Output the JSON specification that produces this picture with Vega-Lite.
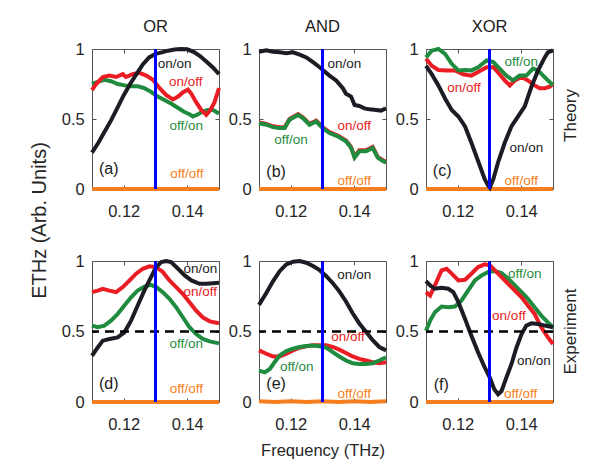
{
"$schema": "https://vega.github.io/schema/vega-lite/v6.json",
"padding": {"left": 28, "top": 18, "right": 5, "bottom": 5},
"config": {
 "font": "Liberation Sans",
 "view": {"stroke": "#555555", "strokeWidth": 1},
 "axis": {"domain": false, "grid": false, "tickSize": -4, "tickColor": "#555555", "tickWidth": 1, "labelFontSize": 16.5, "labelColor": "#262626", "titleFontSize": 16.5, "titleFontWeight": "normal", "titleColor": "#262626"},
 "axisX": {"labelPadding": 31, "labelBaseline": "alphabetic"},
 "axisY": {"labelPadding": 11.7},
 "title": {"fontSize": 16.5, "fontWeight": "normal", "offset": 6, "color": "#1a1a1a"}
},
"datasets": {
 "curves": [
  {"p":"a","s":"off/off","f":0.11,"v":0},{"p":"a","s":"off/off","f":0.15,"v":0},
  {"p":"a","s":"off/on","f":0.11,"v":0.75},{"p":"a","s":"off/on","f":0.1118,"v":0.765},{"p":"a","s":"off/on","f":0.1139,"v":0.78},{"p":"a","s":"off/on","f":0.116,"v":0.77},{"p":"a","s":"off/on","f":0.1181,"v":0.75},{"p":"a","s":"off/on","f":0.1202,"v":0.74},{"p":"a","s":"off/on","f":0.1223,"v":0.734},{"p":"a","s":"off/on","f":0.1244,"v":0.734},{"p":"a","s":"off/on","f":0.1265,"v":0.72},{"p":"a","s":"off/on","f":0.1286,"v":0.694},{"p":"a","s":"off/on","f":0.1307,"v":0.66},{"p":"a","s":"off/on","f":0.1328,"v":0.635},{"p":"a","s":"off/on","f":0.1349,"v":0.61},{"p":"a","s":"off/on","f":0.137,"v":0.58},{"p":"a","s":"off/on","f":0.1391,"v":0.55},{"p":"a","s":"off/on","f":0.1407,"v":0.534},{"p":"a","s":"off/on","f":0.1418,"v":0.518},{"p":"a","s":"off/on","f":0.1434,"v":0.534},{"p":"a","s":"off/on","f":0.1449,"v":0.553},{"p":"a","s":"off/on","f":0.1465,"v":0.565},{"p":"a","s":"off/on","f":0.1481,"v":0.565},{"p":"a","s":"off/on","f":0.15,"v":0.54},
  {"p":"a","s":"on/off","f":0.11,"v":0.706},{"p":"a","s":"on/off","f":0.1113,"v":0.75},{"p":"a","s":"on/off","f":0.1134,"v":0.8},{"p":"a","s":"on/off","f":0.1155,"v":0.81},{"p":"a","s":"on/off","f":0.1176,"v":0.8},{"p":"a","s":"on/off","f":0.1197,"v":0.82},{"p":"a","s":"on/off","f":0.1207,"v":0.8},{"p":"a","s":"on/off","f":0.1228,"v":0.82},{"p":"a","s":"on/off","f":0.1249,"v":0.83},{"p":"a","s":"on/off","f":0.1271,"v":0.81},{"p":"a","s":"on/off","f":0.1292,"v":0.78},{"p":"a","s":"on/off","f":0.1313,"v":0.72},{"p":"a","s":"on/off","f":0.1334,"v":0.67},{"p":"a","s":"on/off","f":0.1355,"v":0.64},{"p":"a","s":"on/off","f":0.1371,"v":0.66},{"p":"a","s":"on/off","f":0.1386,"v":0.69},{"p":"a","s":"on/off","f":0.1402,"v":0.71},{"p":"a","s":"on/off","f":0.1413,"v":0.68},{"p":"a","s":"on/off","f":0.1428,"v":0.62},{"p":"a","s":"on/off","f":0.1444,"v":0.565},{"p":"a","s":"on/off","f":0.146,"v":0.53},{"p":"a","s":"on/off","f":0.1473,"v":0.565},{"p":"a","s":"on/off","f":0.1486,"v":0.62},{"p":"a","s":"on/off","f":0.15,"v":0.72},
  {"p":"a","s":"on/on","f":0.11,"v":0.26},{"p":"a","s":"on/on","f":0.112,"v":0.33},{"p":"a","s":"on/on","f":0.114,"v":0.41},{"p":"a","s":"on/on","f":0.116,"v":0.49},{"p":"a","s":"on/on","f":0.118,"v":0.58},{"p":"a","s":"on/on","f":0.12,"v":0.67},{"p":"a","s":"on/on","f":0.122,"v":0.75},{"p":"a","s":"on/on","f":0.124,"v":0.82},{"p":"a","s":"on/on","f":0.126,"v":0.89},{"p":"a","s":"on/on","f":0.128,"v":0.94},{"p":"a","s":"on/on","f":0.13,"v":0.965},{"p":"a","s":"on/on","f":0.132,"v":0.976},{"p":"a","s":"on/on","f":0.134,"v":0.988},{"p":"a","s":"on/on","f":0.136,"v":0.997},{"p":"a","s":"on/on","f":0.138,"v":1.0},{"p":"a","s":"on/on","f":0.14,"v":0.998},{"p":"a","s":"on/on","f":0.142,"v":0.98},{"p":"a","s":"on/on","f":0.144,"v":0.95},{"p":"a","s":"on/on","f":0.146,"v":0.91},{"p":"a","s":"on/on","f":0.148,"v":0.87},{"p":"a","s":"on/on","f":0.15,"v":0.82},

  {"p":"b","s":"off/off","f":0.11,"v":0},{"p":"b","s":"off/off","f":0.15,"v":0},
  {"p":"b","s":"on/off","f":0.11,"v":0.476},{"p":"b","s":"on/off","f":0.1123,"v":0.465},{"p":"b","s":"on/off","f":0.1144,"v":0.448},{"p":"b","s":"on/off","f":0.1163,"v":0.441},{"p":"b","s":"on/off","f":0.1181,"v":0.441},{"p":"b","s":"on/off","f":0.1196,"v":0.5},{"p":"b","s":"on/off","f":0.1223,"v":0.535},{"p":"b","s":"on/off","f":0.1238,"v":0.512},{"p":"b","s":"on/off","f":0.1259,"v":0.465},{"p":"b","s":"on/off","f":0.128,"v":0.488},{"p":"b","s":"on/off","f":0.1301,"v":0.441},{"p":"b","s":"on/off","f":0.1322,"v":0.406},{"p":"b","s":"on/off","f":0.1348,"v":0.382},{"p":"b","s":"on/off","f":0.1374,"v":0.347},{"p":"b","s":"on/off","f":0.139,"v":0.3},{"p":"b","s":"on/off","f":0.1401,"v":0.23},{"p":"b","s":"on/off","f":0.1416,"v":0.276},{"p":"b","s":"on/off","f":0.1437,"v":0.276},{"p":"b","s":"on/off","f":0.1458,"v":0.3},{"p":"b","s":"on/off","f":0.1474,"v":0.23},{"p":"b","s":"on/off","f":0.149,"v":0.206},{"p":"b","s":"on/off","f":0.15,"v":0.194},
  {"p":"b","s":"off/on","f":0.11,"v":0.47},{"p":"b","s":"off/on","f":0.1123,"v":0.459},{"p":"b","s":"off/on","f":0.1144,"v":0.442},{"p":"b","s":"off/on","f":0.1163,"v":0.435},{"p":"b","s":"off/on","f":0.1181,"v":0.435},{"p":"b","s":"off/on","f":0.1196,"v":0.494},{"p":"b","s":"off/on","f":0.1223,"v":0.529},{"p":"b","s":"off/on","f":0.1238,"v":0.506},{"p":"b","s":"off/on","f":0.1259,"v":0.459},{"p":"b","s":"off/on","f":0.128,"v":0.482},{"p":"b","s":"off/on","f":0.1301,"v":0.435},{"p":"b","s":"off/on","f":0.1322,"v":0.4},{"p":"b","s":"off/on","f":0.1348,"v":0.376},{"p":"b","s":"off/on","f":0.1374,"v":0.341},{"p":"b","s":"off/on","f":0.139,"v":0.294},{"p":"b","s":"off/on","f":0.1401,"v":0.224},{"p":"b","s":"off/on","f":0.1416,"v":0.27},{"p":"b","s":"off/on","f":0.1437,"v":0.27},{"p":"b","s":"off/on","f":0.1458,"v":0.294},{"p":"b","s":"off/on","f":0.1474,"v":0.224},{"p":"b","s":"off/on","f":0.149,"v":0.2},{"p":"b","s":"off/on","f":0.15,"v":0.188},
  {"p":"b","s":"on/on","f":0.11,"v":0.98},{"p":"b","s":"on/on","f":0.1123,"v":0.99},{"p":"b","s":"on/on","f":0.1144,"v":0.98},{"p":"b","s":"on/on","f":0.1165,"v":0.976},{"p":"b","s":"on/on","f":0.1186,"v":0.97},{"p":"b","s":"on/on","f":0.1207,"v":0.976},{"p":"b","s":"on/on","f":0.1228,"v":0.96},{"p":"b","s":"on/on","f":0.1249,"v":0.94},{"p":"b","s":"on/on","f":0.127,"v":0.906},{"p":"b","s":"on/on","f":0.1291,"v":0.87},{"p":"b","s":"on/on","f":0.1303,"v":0.847},{"p":"b","s":"on/on","f":0.1322,"v":0.81},{"p":"b","s":"on/on","f":0.1343,"v":0.776},{"p":"b","s":"on/on","f":0.1364,"v":0.72},{"p":"b","s":"on/on","f":0.1374,"v":0.68},{"p":"b","s":"on/on","f":0.139,"v":0.66},{"p":"b","s":"on/on","f":0.1401,"v":0.6},{"p":"b","s":"on/on","f":0.1416,"v":0.593},{"p":"b","s":"on/on","f":0.1432,"v":0.576},{"p":"b","s":"on/on","f":0.1448,"v":0.569},{"p":"b","s":"on/on","f":0.1469,"v":0.565},{"p":"b","s":"on/on","f":0.1484,"v":0.56},{"p":"b","s":"on/on","f":0.15,"v":0.576},

  {"p":"c","s":"off/off","f":0.11,"v":0},{"p":"c","s":"off/off","f":0.15,"v":0},
  {"p":"c","s":"on/off","f":0.11,"v":0.93},{"p":"c","s":"on/off","f":0.1118,"v":0.88},{"p":"c","s":"on/off","f":0.1139,"v":0.85},{"p":"c","s":"on/off","f":0.1165,"v":0.847},{"p":"c","s":"on/off","f":0.1191,"v":0.847},{"p":"c","s":"on/off","f":0.1217,"v":0.82},{"p":"c","s":"on/off","f":0.1243,"v":0.81},{"p":"c","s":"on/off","f":0.1264,"v":0.835},{"p":"c","s":"on/off","f":0.1291,"v":0.87},{"p":"c","s":"on/off","f":0.1312,"v":0.87},{"p":"c","s":"on/off","f":0.1332,"v":0.82},{"p":"c","s":"on/off","f":0.1348,"v":0.776},{"p":"c","s":"on/off","f":0.1364,"v":0.74},{"p":"c","s":"on/off","f":0.138,"v":0.776},{"p":"c","s":"on/off","f":0.1401,"v":0.8},{"p":"c","s":"on/off","f":0.1421,"v":0.776},{"p":"c","s":"on/off","f":0.1442,"v":0.74},{"p":"c","s":"on/off","f":0.1458,"v":0.72},{"p":"c","s":"on/off","f":0.1474,"v":0.72},{"p":"c","s":"on/off","f":0.149,"v":0.73},{"p":"c","s":"on/off","f":0.15,"v":0.753},
  {"p":"c","s":"off/on","f":0.11,"v":0.94},{"p":"c","s":"off/on","f":0.1118,"v":0.988},{"p":"c","s":"off/on","f":0.1139,"v":1.0},{"p":"c","s":"off/on","f":0.116,"v":0.965},{"p":"c","s":"off/on","f":0.1181,"v":0.894},{"p":"c","s":"off/on","f":0.1202,"v":0.847},{"p":"c","s":"off/on","f":0.1223,"v":0.85},{"p":"c","s":"off/on","f":0.1243,"v":0.847},{"p":"c","s":"off/on","f":0.1264,"v":0.87},{"p":"c","s":"off/on","f":0.1291,"v":0.918},{"p":"c","s":"off/on","f":0.1312,"v":0.906},{"p":"c","s":"off/on","f":0.1332,"v":0.86},{"p":"c","s":"off/on","f":0.1353,"v":0.81},{"p":"c","s":"off/on","f":0.1374,"v":0.776},{"p":"c","s":"off/on","f":0.1395,"v":0.81},{"p":"c","s":"off/on","f":0.1416,"v":0.81},{"p":"c","s":"off/on","f":0.1437,"v":0.86},{"p":"c","s":"off/on","f":0.1453,"v":0.847},{"p":"c","s":"off/on","f":0.1469,"v":0.81},{"p":"c","s":"off/on","f":0.1484,"v":0.776},{"p":"c","s":"off/on","f":0.15,"v":0.741},
  {"p":"c","s":"on/on","f":0.11,"v":0.88},{"p":"c","s":"on/on","f":0.1118,"v":0.82},{"p":"c","s":"on/on","f":0.1139,"v":0.74},{"p":"c","s":"on/on","f":0.116,"v":0.647},{"p":"c","s":"on/on","f":0.1181,"v":0.565},{"p":"c","s":"on/on","f":0.1202,"v":0.518},{"p":"c","s":"on/on","f":0.1223,"v":0.447},{"p":"c","s":"on/on","f":0.1243,"v":0.33},{"p":"c","s":"on/on","f":0.1264,"v":0.2},{"p":"c","s":"on/on","f":0.1285,"v":0.07},{"p":"c","s":"on/on","f":0.1296,"v":0.024},{"p":"c","s":"on/on","f":0.1301,"v":0.01},{"p":"c","s":"on/on","f":0.1312,"v":0.07},{"p":"c","s":"on/on","f":0.1327,"v":0.19},{"p":"c","s":"on/on","f":0.1348,"v":0.33},{"p":"c","s":"on/on","f":0.1369,"v":0.447},{"p":"c","s":"on/on","f":0.139,"v":0.518},{"p":"c","s":"on/on","f":0.1411,"v":0.59},{"p":"c","s":"on/on","f":0.1432,"v":0.73},{"p":"c","s":"on/on","f":0.1453,"v":0.847},{"p":"c","s":"on/on","f":0.1474,"v":0.94},{"p":"c","s":"on/on","f":0.1484,"v":0.976},{"p":"c","s":"on/on","f":0.15,"v":0.99},

  {"p":"d","s":"off/off","f":0.11,"v":0},{"p":"d","s":"off/off","f":0.15,"v":0},
  {"p":"d","s":"off/on","f":0.11,"v":0.542},{"p":"d","s":"off/on","f":0.1118,"v":0.53},{"p":"d","s":"off/on","f":0.1139,"v":0.542},{"p":"d","s":"off/on","f":0.116,"v":0.577},{"p":"d","s":"off/on","f":0.1181,"v":0.625},{"p":"d","s":"off/on","f":0.1202,"v":0.684},{"p":"d","s":"off/on","f":0.1223,"v":0.743},{"p":"d","s":"off/on","f":0.1244,"v":0.791},{"p":"d","s":"off/on","f":0.1265,"v":0.819},{"p":"d","s":"off/on","f":0.1286,"v":0.831},{"p":"d","s":"off/on","f":0.1302,"v":0.815},{"p":"d","s":"off/on","f":0.1323,"v":0.779},{"p":"d","s":"off/on","f":0.1344,"v":0.732},{"p":"d","s":"off/on","f":0.1365,"v":0.672},{"p":"d","s":"off/on","f":0.1386,"v":0.601},{"p":"d","s":"off/on","f":0.1407,"v":0.53},{"p":"d","s":"off/on","f":0.1428,"v":0.482},{"p":"d","s":"off/on","f":0.1449,"v":0.447},{"p":"d","s":"off/on","f":0.1471,"v":0.43},{"p":"d","s":"off/on","f":0.15,"v":0.416},
  {"p":"d","s":"on/off","f":0.11,"v":0.779},{"p":"d","s":"on/off","f":0.1118,"v":0.79},{"p":"d","s":"on/off","f":0.1134,"v":0.803},{"p":"d","s":"on/off","f":0.1155,"v":0.79},{"p":"d","s":"on/off","f":0.1176,"v":0.779},{"p":"d","s":"on/off","f":0.1197,"v":0.815},{"p":"d","s":"on/off","f":0.1218,"v":0.862},{"p":"d","s":"on/off","f":0.1239,"v":0.91},{"p":"d","s":"on/off","f":0.126,"v":0.945},{"p":"d","s":"on/off","f":0.1281,"v":0.962},{"p":"d","s":"on/off","f":0.1302,"v":0.957},{"p":"d","s":"on/off","f":0.1323,"v":0.922},{"p":"d","s":"on/off","f":0.1344,"v":0.862},{"p":"d","s":"on/off","f":0.1365,"v":0.815},{"p":"d","s":"on/off","f":0.1386,"v":0.767},{"p":"d","s":"on/off","f":0.1407,"v":0.708},{"p":"d","s":"on/off","f":0.1428,"v":0.648},{"p":"d","s":"on/off","f":0.1449,"v":0.6},{"p":"d","s":"on/off","f":0.1471,"v":0.572},{"p":"d","s":"on/off","f":0.15,"v":0.558},
  {"p":"d","s":"on/on","f":0.11,"v":0.328},{"p":"d","s":"on/on","f":0.1118,"v":0.387},{"p":"d","s":"on/on","f":0.1134,"v":0.435},{"p":"d","s":"on/on","f":0.1155,"v":0.447},{"p":"d","s":"on/on","f":0.1181,"v":0.458},{"p":"d","s":"on/on","f":0.1202,"v":0.494},{"p":"d","s":"on/on","f":0.1223,"v":0.577},{"p":"d","s":"on/on","f":0.1244,"v":0.684},{"p":"d","s":"on/on","f":0.1265,"v":0.791},{"p":"d","s":"on/on","f":0.1286,"v":0.886},{"p":"d","s":"on/on","f":0.1302,"v":0.957},{"p":"d","s":"on/on","f":0.1318,"v":0.993},{"p":"d","s":"on/on","f":0.1334,"v":1.0},{"p":"d","s":"on/on","f":0.1349,"v":0.993},{"p":"d","s":"on/on","f":0.1371,"v":0.945},{"p":"d","s":"on/on","f":0.1392,"v":0.898},{"p":"d","s":"on/on","f":0.1413,"v":0.862},{"p":"d","s":"on/on","f":0.1439,"v":0.838},{"p":"d","s":"on/on","f":0.146,"v":0.838},{"p":"d","s":"on/on","f":0.1481,"v":0.843},{"p":"d","s":"on/on","f":0.15,"v":0.846},

  {"p":"e","s":"off/off","f":0.11,"v":0.005},{"p":"e","s":"off/off","f":0.115,"v":0.0},{"p":"e","s":"off/off","f":0.12,"v":0.006},{"p":"e","s":"off/off","f":0.125,"v":0.0},{"p":"e","s":"off/off","f":0.13,"v":0.005},{"p":"e","s":"off/off","f":0.135,"v":0.0},{"p":"e","s":"off/off","f":0.14,"v":0.006},{"p":"e","s":"off/off","f":0.145,"v":0.0},{"p":"e","s":"off/off","f":0.15,"v":0.005},
  {"p":"e","s":"on/off","f":0.11,"v":0.366},{"p":"e","s":"on/off","f":0.1123,"v":0.342},{"p":"e","s":"on/off","f":0.1144,"v":0.323},{"p":"e","s":"on/off","f":0.1165,"v":0.323},{"p":"e","s":"on/off","f":0.1186,"v":0.342},{"p":"e","s":"on/off","f":0.1207,"v":0.366},{"p":"e","s":"on/off","f":0.1228,"v":0.385},{"p":"e","s":"on/off","f":0.1249,"v":0.395},{"p":"e","s":"on/off","f":0.127,"v":0.402},{"p":"e","s":"on/off","f":0.1291,"v":0.402},{"p":"e","s":"on/off","f":0.1312,"v":0.402},{"p":"e","s":"on/off","f":0.1332,"v":0.39},{"p":"e","s":"on/off","f":0.1353,"v":0.371},{"p":"e","s":"on/off","f":0.1374,"v":0.347},{"p":"e","s":"on/off","f":0.1395,"v":0.323},{"p":"e","s":"on/off","f":0.1416,"v":0.306},{"p":"e","s":"on/off","f":0.1437,"v":0.294},{"p":"e","s":"on/off","f":0.1458,"v":0.282},{"p":"e","s":"on/off","f":0.1479,"v":0.275},{"p":"e","s":"on/off","f":0.15,"v":0.282},
  {"p":"e","s":"off/on","f":0.11,"v":0.222},{"p":"e","s":"off/on","f":0.1118,"v":0.21},{"p":"e","s":"off/on","f":0.1134,"v":0.234},{"p":"e","s":"off/on","f":0.1149,"v":0.282},{"p":"e","s":"off/on","f":0.1165,"v":0.33},{"p":"e","s":"off/on","f":0.1186,"v":0.361},{"p":"e","s":"off/on","f":0.1207,"v":0.378},{"p":"e","s":"off/on","f":0.1228,"v":0.39},{"p":"e","s":"off/on","f":0.1249,"v":0.397},{"p":"e","s":"off/on","f":0.127,"v":0.4},{"p":"e","s":"off/on","f":0.1291,"v":0.395},{"p":"e","s":"off/on","f":0.1312,"v":0.385},{"p":"e","s":"off/on","f":0.1332,"v":0.354},{"p":"e","s":"off/on","f":0.1353,"v":0.323},{"p":"e","s":"off/on","f":0.1374,"v":0.294},{"p":"e","s":"off/on","f":0.1395,"v":0.275},{"p":"e","s":"off/on","f":0.1416,"v":0.27},{"p":"e","s":"off/on","f":0.1437,"v":0.27},{"p":"e","s":"off/on","f":0.1458,"v":0.275},{"p":"e","s":"off/on","f":0.1479,"v":0.294},{"p":"e","s":"off/on","f":0.15,"v":0.318},
  {"p":"e","s":"on/on","f":0.11,"v":0.689},{"p":"e","s":"on/on","f":0.1123,"v":0.773},{"p":"e","s":"on/on","f":0.1144,"v":0.856},{"p":"e","s":"on/on","f":0.1165,"v":0.928},{"p":"e","s":"on/on","f":0.1186,"v":0.976},{"p":"e","s":"on/on","f":0.1207,"v":0.995},{"p":"e","s":"on/on","f":0.1228,"v":1.0},{"p":"e","s":"on/on","f":0.1249,"v":0.988},{"p":"e","s":"on/on","f":0.127,"v":0.964},{"p":"e","s":"on/on","f":0.1291,"v":0.935},{"p":"e","s":"on/on","f":0.1312,"v":0.892},{"p":"e","s":"on/on","f":0.1332,"v":0.844},{"p":"e","s":"on/on","f":0.1353,"v":0.785},{"p":"e","s":"on/on","f":0.1374,"v":0.713},{"p":"e","s":"on/on","f":0.1395,"v":0.629},{"p":"e","s":"on/on","f":0.1416,"v":0.557},{"p":"e","s":"on/on","f":0.1437,"v":0.498},{"p":"e","s":"on/on","f":0.1458,"v":0.438},{"p":"e","s":"on/on","f":0.1479,"v":0.39},{"p":"e","s":"on/on","f":0.15,"v":0.366},

  {"p":"f","s":"off/off","f":0.11,"v":0},{"p":"f","s":"off/off","f":0.15,"v":0},
  {"p":"f","s":"off/on","f":0.11,"v":0.506},{"p":"f","s":"off/on","f":0.1113,"v":0.577},{"p":"f","s":"off/on","f":0.1128,"v":0.637},{"p":"f","s":"off/on","f":0.1149,"v":0.677},{"p":"f","s":"off/on","f":0.117,"v":0.672},{"p":"f","s":"off/on","f":0.1191,"v":0.677},{"p":"f","s":"off/on","f":0.1212,"v":0.72},{"p":"f","s":"off/on","f":0.1233,"v":0.791},{"p":"f","s":"off/on","f":0.1254,"v":0.862},{"p":"f","s":"off/on","f":0.1275,"v":0.898},{"p":"f","s":"off/on","f":0.1296,"v":0.922},{"p":"f","s":"off/on","f":0.1317,"v":0.929},{"p":"f","s":"off/on","f":0.1338,"v":0.914},{"p":"f","s":"off/on","f":0.1359,"v":0.874},{"p":"f","s":"off/on","f":0.138,"v":0.827},{"p":"f","s":"off/on","f":0.1401,"v":0.779},{"p":"f","s":"off/on","f":0.1421,"v":0.732},{"p":"f","s":"off/on","f":0.1442,"v":0.672},{"p":"f","s":"off/on","f":0.1463,"v":0.613},{"p":"f","s":"off/on","f":0.1484,"v":0.565},{"p":"f","s":"off/on","f":0.15,"v":0.53},
  {"p":"f","s":"on/off","f":0.11,"v":0.779},{"p":"f","s":"on/off","f":0.1113,"v":0.755},{"p":"f","s":"on/off","f":0.1128,"v":0.827},{"p":"f","s":"on/off","f":0.1149,"v":0.933},{"p":"f","s":"on/off","f":0.1165,"v":0.945},{"p":"f","s":"on/off","f":0.1181,"v":0.91},{"p":"f","s":"on/off","f":0.1202,"v":0.862},{"p":"f","s":"on/off","f":0.1223,"v":0.867},{"p":"f","s":"on/off","f":0.1243,"v":0.91},{"p":"f","s":"on/off","f":0.1264,"v":0.957},{"p":"f","s":"on/off","f":0.1285,"v":0.976},{"p":"f","s":"on/off","f":0.1301,"v":0.969},{"p":"f","s":"on/off","f":0.1317,"v":0.933},{"p":"f","s":"on/off","f":0.1338,"v":0.886},{"p":"f","s":"on/off","f":0.1359,"v":0.838},{"p":"f","s":"on/off","f":0.138,"v":0.791},{"p":"f","s":"on/off","f":0.1401,"v":0.743},{"p":"f","s":"on/off","f":0.1421,"v":0.684},{"p":"f","s":"on/off","f":0.1442,"v":0.625},{"p":"f","s":"on/off","f":0.1463,"v":0.53},{"p":"f","s":"on/off","f":0.1484,"v":0.458},{"p":"f","s":"on/off","f":0.15,"v":0.411},
  {"p":"f","s":"on/on","f":0.11,"v":0.857},{"p":"f","s":"on/on","f":0.1113,"v":0.827},{"p":"f","s":"on/on","f":0.1128,"v":0.803},{"p":"f","s":"on/on","f":0.1149,"v":0.81},{"p":"f","s":"on/on","f":0.117,"v":0.803},{"p":"f","s":"on/on","f":0.1186,"v":0.779},{"p":"f","s":"on/on","f":0.1202,"v":0.708},{"p":"f","s":"on/on","f":0.1223,"v":0.589},{"p":"f","s":"on/on","f":0.1243,"v":0.47},{"p":"f","s":"on/on","f":0.1264,"v":0.352},{"p":"f","s":"on/on","f":0.1285,"v":0.245},{"p":"f","s":"on/on","f":0.1301,"v":0.173},{"p":"f","s":"on/on","f":0.1315,"v":0.09},{"p":"f","s":"on/on","f":0.1327,"v":0.055},{"p":"f","s":"on/on","f":0.1338,"v":0.078},{"p":"f","s":"on/on","f":0.1353,"v":0.173},{"p":"f","s":"on/on","f":0.1369,"v":0.268},{"p":"f","s":"on/on","f":0.1385,"v":0.387},{"p":"f","s":"on/on","f":0.1401,"v":0.482},{"p":"f","s":"on/on","f":0.1416,"v":0.542},{"p":"f","s":"on/on","f":0.1432,"v":0.558},{"p":"f","s":"on/on","f":0.1453,"v":0.553},{"p":"f","s":"on/on","f":0.1474,"v":0.542},{"p":"f","s":"on/on","f":0.15,"v":0.53}
 ],
 "labels": [
  {"p":"a","s":"on/on","t":"on/on","f":0.136,"v":0.894},{"p":"a","s":"on/off","t":"on/off","f":0.1395,"v":0.765},{"p":"a","s":"off/on","t":"off/on","f":0.1397,"v":0.447},{"p":"a","s":"off/off","t":"off/off","f":0.1399,"v":0.106},{"p":"a","s":"letter","t":"(a)","f":0.1153,"v":0.141},
  {"p":"b","s":"on/on","t":"on/on","f":0.1369,"v":0.894},{"p":"b","s":"on/off","t":"on/off","f":0.14,"v":0.447},{"p":"b","s":"off/on","t":"off/on","f":0.1201,"v":0.353},{"p":"b","s":"off/off","t":"off/off","f":0.14,"v":0.06},{"p":"b","s":"letter","t":"(b)","f":0.1154,"v":0.118},
  {"p":"c","s":"off/on","t":"off/on","f":0.14,"v":0.906},{"p":"c","s":"on/off","t":"on/off","f":0.122,"v":0.718},{"p":"c","s":"on/on","t":"on/on","f":0.1416,"v":0.294},{"p":"c","s":"off/off","t":"off/off","f":0.14,"v":0.06},{"p":"c","s":"letter","t":"(c)","f":0.1151,"v":0.129},
  {"p":"d","s":"on/on","t":"on/on","f":0.1441,"v":0.945},{"p":"d","s":"on/off","t":"on/off","f":0.1441,"v":0.779},{"p":"d","s":"off/on","t":"off/on","f":0.1397,"v":0.411},{"p":"d","s":"off/off","t":"off/off","f":0.1397,"v":0.09},{"p":"d","s":"letter","t":"(d)","f":0.1153,"v":0.126},
  {"p":"e","s":"on/on","t":"on/on","f":0.14,"v":0.904},{"p":"e","s":"on/off","t":"on/off","f":0.138,"v":0.462},{"p":"e","s":"off/on","t":"off/on","f":0.1219,"v":0.251},{"p":"e","s":"off/off","t":"off/off","f":0.14,"v":0.06},{"p":"e","s":"letter","t":"(e)","f":0.1154,"v":0.127},
  {"p":"f","s":"off/on","t":"off/on","f":0.1411,"v":0.91},{"p":"f","s":"on/off","t":"on/off","f":0.1361,"v":0.613},{"p":"f","s":"on/on","t":"on/on","f":0.144,"v":0.292},{"p":"f","s":"off/off","t":"off/off","f":0.1398,"v":0.055},{"p":"f","s":"letter","t":"(f)","f":0.1148,"v":0.121}
 ],
 "marks": [{"m":"frequency"}]
},
"vconcat": [
 {"hconcat": [
  {"width":127,"height":140,"title":"OR",
   "layer":[
    {"data":{"name":"curves"},"transform":[{"filter":"datum.p==='a'"}],"mark":{"type":"line","strokeWidth":4},
     "encoding":{"x":{"field":"f","type":"quantitative","scale":{"domain":[0.11,0.15],"nice":false,"zero":false},"axis":{"orient":"bottom","values":[0.12,0.14],"format":".2f","title":null}},
      "y":{"field":"v","type":"quantitative","scale":{"domain":[0,1],"nice":false},"axis":{"orient":"left","values":[0,0.5,1],"format":"~g","title":"ETHz (Arb. Units)","titleFontSize":20,"titleAngle":-90,"titleBaseline":"middle","titleAlign":"center","titleX":-53,"titleY":171}},
      "color":{"field":"s","type":"nominal","scale":{"domain":["on/on","on/off","off/on","off/off","letter"],"range":["#1c1c24","#ea1d24","#1f8b3f","#f57f20","#1a1a1a"]},"legend":null}}},
    {"data":{"name":"marks"},"mark":{"type":"rule","color":"#0000ff","strokeWidth":3},"encoding":{"x":{"datum":0.13,"type":"quantitative","axis":{"orient":"top","labels":false,"values":[0.12,0.14],"title":null}}}},
    {"data":{"name":"labels"},"transform":[{"filter":"datum.p==='a'"}],"mark":{"type":"text","baseline":"middle","align":"center"},
     "encoding":{"x":{"field":"f","type":"quantitative","axis":null},"y":{"field":"v","type":"quantitative","axis":{"orient":"right","labels":false,"values":[0,0.5,1],"title":null}},"text":{"field":"t"},"color":{"field":"s","type":"nominal","legend":null},"size":{"condition":{"test":"datum.s==='letter'","value":16},"value":13.5}}}
   ],
   "resolve":{"axis":{"x":"independent","y":"independent"}}},
  {"width":127,"height":140,"title":"AND",
   "layer":[
    {"data":{"name":"curves"},"transform":[{"filter":"datum.p==='b'"}],"mark":{"type":"line","strokeWidth":4},
     "encoding":{"x":{"field":"f","type":"quantitative","scale":{"domain":[0.11,0.15],"nice":false,"zero":false},"axis":{"orient":"bottom","values":[0.12,0.14],"format":".2f","title":null}},
      "y":{"field":"v","type":"quantitative","scale":{"domain":[0,1],"nice":false},"axis":{"orient":"left","values":[0,0.5,1],"format":"~g","title":null}},
      "color":{"field":"s","type":"nominal","scale":{"domain":["on/on","on/off","off/on","off/off","letter"],"range":["#1c1c24","#ea1d24","#1f8b3f","#f57f20","#1a1a1a"]},"legend":null}}},
    {"data":{"name":"marks"},"mark":{"type":"rule","color":"#0000ff","strokeWidth":3},"encoding":{"x":{"datum":0.13,"type":"quantitative","axis":{"orient":"top","labels":false,"values":[0.12,0.14],"title":null}}}},
    {"data":{"name":"labels"},"transform":[{"filter":"datum.p==='b'"}],"mark":{"type":"text","baseline":"middle","align":"center"},
     "encoding":{"x":{"field":"f","type":"quantitative","axis":null},"y":{"field":"v","type":"quantitative","axis":{"orient":"right","labels":false,"values":[0,0.5,1],"title":null}},"text":{"field":"t"},"color":{"field":"s","type":"nominal","legend":null},"size":{"condition":{"test":"datum.s==='letter'","value":16},"value":13.5}}}
   ],
   "resolve":{"axis":{"x":"independent","y":"independent"}}},
  {"width":127,"height":140,"title":"XOR",
   "layer":[
    {"data":{"name":"curves"},"transform":[{"filter":"datum.p==='c'"}],"mark":{"type":"line","strokeWidth":4},
     "encoding":{"x":{"field":"f","type":"quantitative","scale":{"domain":[0.11,0.15],"nice":false,"zero":false},"axis":{"orient":"bottom","values":[0.12,0.14],"format":".2f","title":null}},
      "y":{"field":"v","type":"quantitative","scale":{"domain":[0,1],"nice":false},"axis":{"orient":"left","values":[0,0.5,1],"format":"~g","title":null}},
      "color":{"field":"s","type":"nominal","scale":{"domain":["on/on","on/off","off/on","off/off","letter"],"range":["#1c1c24","#ea1d24","#1f8b3f","#f57f20","#1a1a1a"]},"legend":null}}},
    {"data":{"name":"marks"},"mark":{"type":"rule","color":"#0000ff","strokeWidth":3},"encoding":{"x":{"datum":0.13,"type":"quantitative","axis":{"orient":"top","labels":false,"values":[0.12,0.14],"title":null}}}},
    {"data":{"name":"labels"},"transform":[{"filter":"datum.p==='c'"}],"mark":{"type":"text","baseline":"middle","align":"center"},
     "encoding":{"x":{"field":"f","type":"quantitative","axis":null},"y":{"field":"v","type":"quantitative","axis":{"orient":"right","labels":false,"values":[0,0.5,1],"title":"Theory","titleFontSize":17,"titleAngle":-90,"titleBaseline":"middle","titleAlign":"center","titleX":17,"titleY":66}},"text":{"field":"t"},"color":{"field":"s","type":"nominal","legend":null},"size":{"condition":{"test":"datum.s==='letter'","value":16},"value":13.5}}}
   ],
   "resolve":{"axis":{"x":"independent","y":"independent"}}}
 ], "spacing": 40, "bounds": "flush"},
 {"hconcat": [
  {"width":127,"height":141,
   "layer":[
    {"data":{"name":"curves"},"transform":[{"filter":"datum.p==='d'"}],"mark":{"type":"line","strokeWidth":4},
     "encoding":{"x":{"field":"f","type":"quantitative","scale":{"domain":[0.11,0.15],"nice":false,"zero":false},"axis":{"orient":"bottom","values":[0.12,0.14],"format":".2f","title":null}},
      "y":{"field":"v","type":"quantitative","scale":{"domain":[0,1],"nice":false},"axis":{"orient":"left","values":[0,0.5,1],"format":"~g","title":null}},
      "color":{"field":"s","type":"nominal","scale":{"domain":["on/on","on/off","off/on","off/off","letter"],"range":["#1c1c24","#ea1d24","#1f8b3f","#f57f20","#1a1a1a"]},"legend":null}}},
    {"data":{"name":"marks"},"mark":{"type":"rule","color":"#000000","strokeWidth":2.5,"strokeDash":[9,6]},"encoding":{"y":{"datum":0.5,"type":"quantitative","axis":null}}},
    {"data":{"name":"marks"},"mark":{"type":"rule","color":"#0000ff","strokeWidth":3},"encoding":{"x":{"datum":0.13,"type":"quantitative","axis":{"orient":"top","labels":false,"values":[0.12,0.14],"title":null}}}},
    {"data":{"name":"labels"},"transform":[{"filter":"datum.p==='d'"}],"mark":{"type":"text","baseline":"middle","align":"center"},
     "encoding":{"x":{"field":"f","type":"quantitative","axis":null},"y":{"field":"v","type":"quantitative","axis":{"orient":"right","labels":false,"values":[0,0.5,1],"title":null}},"text":{"field":"t"},"color":{"field":"s","type":"nominal","legend":null},"size":{"condition":{"test":"datum.s==='letter'","value":16},"value":13.5}}}
   ],
   "resolve":{"axis":{"x":"independent","y":"independent"}}},
  {"width":127,"height":141,
   "layer":[
    {"data":{"name":"curves"},"transform":[{"filter":"datum.p==='e'"}],"mark":{"type":"line","strokeWidth":4},
     "encoding":{"x":{"field":"f","type":"quantitative","scale":{"domain":[0.11,0.15],"nice":false,"zero":false},"axis":{"orient":"bottom","values":[0.12,0.14],"format":".2f","title":"Frequency (THz)","titleBaseline":"alphabetic","titleY":53,"titleX":63.5,"titleAlign":"center"}},
      "y":{"field":"v","type":"quantitative","scale":{"domain":[0,1],"nice":false},"axis":{"orient":"left","values":[0,0.5,1],"format":"~g","title":null}},
      "color":{"field":"s","type":"nominal","scale":{"domain":["on/on","on/off","off/on","off/off","letter"],"range":["#1c1c24","#ea1d24","#1f8b3f","#f57f20","#1a1a1a"]},"legend":null}}},
    {"data":{"name":"marks"},"mark":{"type":"rule","color":"#000000","strokeWidth":2.5,"strokeDash":[9,6]},"encoding":{"y":{"datum":0.5,"type":"quantitative","axis":null}}},
    {"data":{"name":"marks"},"mark":{"type":"rule","color":"#0000ff","strokeWidth":3},"encoding":{"x":{"datum":0.13,"type":"quantitative","axis":{"orient":"top","labels":false,"values":[0.12,0.14],"title":null}}}},
    {"data":{"name":"labels"},"transform":[{"filter":"datum.p==='e'"}],"mark":{"type":"text","baseline":"middle","align":"center"},
     "encoding":{"x":{"field":"f","type":"quantitative","axis":null},"y":{"field":"v","type":"quantitative","axis":{"orient":"right","labels":false,"values":[0,0.5,1],"title":null}},"text":{"field":"t"},"color":{"field":"s","type":"nominal","legend":null},"size":{"condition":{"test":"datum.s==='letter'","value":16},"value":13.5}}}
   ],
   "resolve":{"axis":{"x":"independent","y":"independent"}}},
  {"width":127,"height":141,
   "layer":[
    {"data":{"name":"curves"},"transform":[{"filter":"datum.p==='f'"}],"mark":{"type":"line","strokeWidth":4},
     "encoding":{"x":{"field":"f","type":"quantitative","scale":{"domain":[0.11,0.15],"nice":false,"zero":false},"axis":{"orient":"bottom","values":[0.12,0.14],"format":".2f","title":null}},
      "y":{"field":"v","type":"quantitative","scale":{"domain":[0,1],"nice":false},"axis":{"orient":"left","values":[0,0.5,1],"format":"~g","title":null}},
      "color":{"field":"s","type":"nominal","scale":{"domain":["on/on","on/off","off/on","off/off","letter"],"range":["#1c1c24","#ea1d24","#1f8b3f","#f57f20","#1a1a1a"]},"legend":null}}},
    {"data":{"name":"marks"},"mark":{"type":"rule","color":"#000000","strokeWidth":2.5,"strokeDash":[9,6]},"encoding":{"y":{"datum":0.5,"type":"quantitative","axis":null}}},
    {"data":{"name":"marks"},"mark":{"type":"rule","color":"#0000ff","strokeWidth":3},"encoding":{"x":{"datum":0.13,"type":"quantitative","axis":{"orient":"top","labels":false,"values":[0.12,0.14],"title":null}}}},
    {"data":{"name":"labels"},"transform":[{"filter":"datum.p==='f'"}],"mark":{"type":"text","baseline":"middle","align":"center"},
     "encoding":{"x":{"field":"f","type":"quantitative","axis":null},"y":{"field":"v","type":"quantitative","axis":{"orient":"right","labels":false,"values":[0,0.5,1],"title":"Experiment","titleFontSize":17,"titleAngle":-90,"titleBaseline":"middle","titleAlign":"center","titleX":17,"titleY":70}},"text":{"field":"t"},"color":{"field":"s","type":"nominal","legend":null},"size":{"condition":{"test":"datum.s==='letter'","value":16},"value":13.5}}}
   ],
   "resolve":{"axis":{"x":"independent","y":"independent"}}}
 ], "spacing": 40, "bounds": "flush"}
],
"spacing": 212,
"bounds": "flush"
}
